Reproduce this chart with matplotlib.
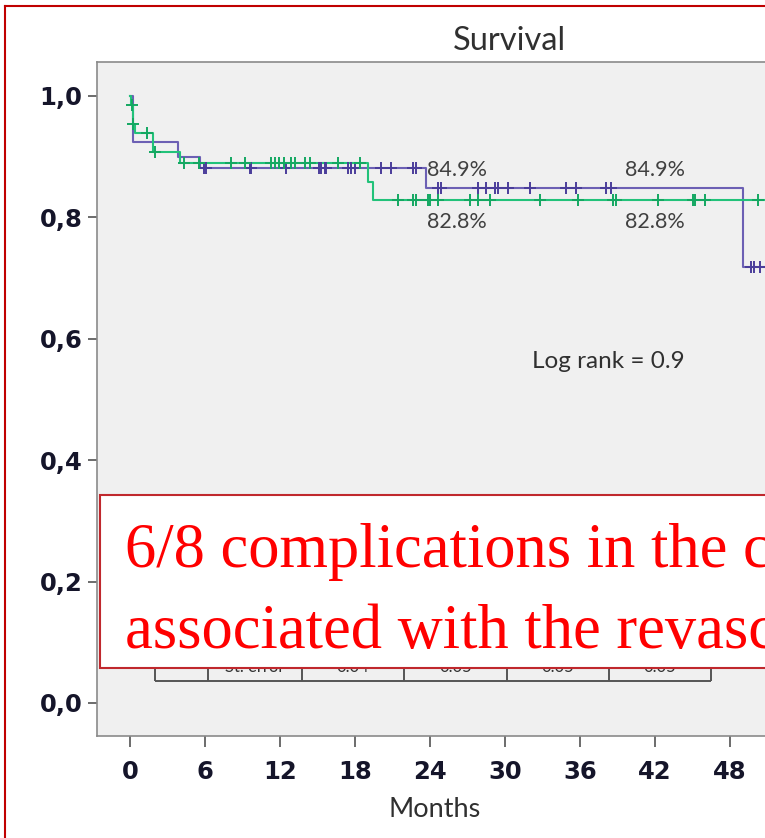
import numpy as np
import matplotlib
matplotlib.use("Agg")
import matplotlib.pyplot as plt
from matplotlib.patches import Rectangle

# --- data ---
# step curves: event times (months) and survival after each step
purple_t = [0, 0.25, 3.85, 5.6, 23.7, 49.0, 51.5]
purple_s = [1.0, 0.924, 0.900, 0.881, 0.849, 0.718, 0.718]
green_t = [0, 0.1, 0.2, 0.4, 1.85, 4.0, 19.0, 19.4, 51.5]
green_s = [1.0, 0.985, 0.954, 0.939, 0.908, 0.889, 0.858, 0.828, 0.828]

# censored observations (months)
purple_cens = [5.9, 6.1, 9.6, 9.7, 12.5, 15.1, 15.3, 15.6, 15.7, 17.4, 17.7,
               18.0, 20.1, 20.9, 22.6, 22.9, 24.6, 24.9, 27.8, 28.5, 29.2,
               29.4, 30.2, 32.0, 34.9, 35.7, 38.1, 38.5, 49.7, 49.9, 50.4]
green_cens = [0.15, 0.2, 1.35, 2.0, 4.3, 5.5, 8.1, 9.2, 11.3, 11.6, 11.9,
              12.3, 12.9, 13.2, 14.0, 14.4, 16.6, 18.4, 21.4, 22.6, 22.9,
              23.8, 24.0, 24.6, 27.2, 27.8, 28.8, 32.8, 35.8, 38.6, 38.9,
              42.2, 45.0, 45.2, 46.0, 50.2]

pct_labels = ["84.9%", "84.9%", "82.8%", "82.8%"]
pct_x = [23.8, 39.6, 23.8, 39.6]
pct_y = [0.878, 0.878, 0.792, 0.792]

table_edges = [2.0, 6.24, 13.76, 21.92, 30.16, 38.32, 46.48]
table_cells = ["", "St. error", "0.04", "0.05", "0.05", "0.05"]

x_ticks = np.arange(0, 49, 6)
y_ticks = [0.0, 0.2, 0.4, 0.6, 0.8, 1.0]
y_ticklabels = ["0,0", "0,2", "0,4", "0,6", "0,8", "1,0"]

PURPLE = "#6c60b4"
PURPLE_MK = "#4a3d9a"
GREEN = "#22c27a"
GREEN_MK = "#14a862"
SANS = ["Lato", "DejaVu Sans"]


def level_at(t_steps, s_steps, t):
    idx = np.searchsorted(t_steps, t, side="right") - 1
    return np.asarray(s_steps)[idx]


W, H = 765, 838
fig = plt.figure(figsize=(W / 100, H / 100), dpi=100)
fig.patch.set_facecolor("white")

ax = fig.add_axes([97 / W, 1 - 736 / H, (921 - 97) / W, (736 - 62) / H])
ax.set_facecolor("#f0f0f0")
ax.set_xlim(-2.64, 63.28)
ax.set_ylim(-0.0544, 1.056)

ax.step(purple_t, purple_s, where="post", color=PURPLE, lw=1.5, zorder=3)
ax.step(green_t, green_s, where="post", color=GREEN, lw=1.5, zorder=3)
ax.plot(purple_cens, level_at(purple_t, purple_s, purple_cens), ls="none",
        marker="+", ms=8.5, mew=1.4, color=PURPLE_MK, zorder=4)
ax.plot(green_cens, level_at(green_t, green_s, green_cens), ls="none",
        marker="+", ms=8.5, mew=1.4, color=GREEN_MK, zorder=4)

for lab, px, py in zip(pct_labels, pct_x, pct_y):
    ax.text(px, py, lab, ha="left", va="center", fontsize=15.5,
            family=SANS, color="#404040")
ax.text(32.2, 0.562, "Log rank = 0.9", ha="left", va="center", fontsize=17.5,
        family=SANS, color="#303030")

# survival table partly hidden behind the annotation box
ax.hlines(0.0362, table_edges[0], table_edges[-1], color="#555555", lw=1.4, zorder=2)
ax.vlines(table_edges, 0.0362, 0.11, color="#555555", lw=1.4, zorder=2)
for i, cell in enumerate(table_cells):
    ax.text((table_edges[i] + table_edges[i + 1]) / 2, 0.059, cell,
            ha="center", va="center", fontsize=12, family=SANS, color="#333333")

for side in ["left", "top", "bottom"]:
    ax.spines[side].set_color("#8a8a8a")
    ax.spines[side].set_linewidth(1.2)
ax.spines["right"].set_visible(False)

ax.set_xticks(x_ticks)
ax.set_xticklabels([str(v) for v in x_ticks])
ax.set_yticks(y_ticks)
ax.set_yticklabels(y_ticklabels)
ax.tick_params(axis="y", direction="out", length=6.5, width=1.1, color="#444444",
               pad=4, labelsize=17.5, labelcolor="#15152a")
ax.tick_params(axis="x", direction="out", length=8, width=1.1, color="#444444",
               pad=9, labelsize=17.5, labelcolor="#15152a")
for lab in ax.get_xticklabels() + ax.get_yticklabels():
    lab.set_fontweight("bold")
    lab.set_family("DejaVu Sans")

ax.set_title("Survival", fontsize=23.5, family=SANS, color="#303030", pad=9)
ax.set_xlabel("Months", fontsize=19.5, family=SANS, color="#303030")
ax.xaxis.set_label_coords((435 - 97) / 824, -0.09)

# annotation box over the chart
fig.add_artist(Rectangle((100 / W, 1 - 668 / H), 1.0, (668 - 495) / H,
                         transform=fig.transFigure, facecolor="white",
                         edgecolor="#c0282d", lw=1.5, zorder=5))
fig.text(125 / W, 1 - 567 / H, "6/8 complications in the c", fontsize=45,
         family="Liberation Serif", color="#ff0000", va="baseline", zorder=6)
fig.text(125 / W, 1 - 648 / H, "associated with the revasc", fontsize=45,
         family="Liberation Serif", color="#ff0000", va="baseline", zorder=6)

# thin red slide frame
fig.add_artist(plt.Line2D([5 / W, 5 / W], [0, 1 - 6 / H], transform=fig.transFigure,
                          color="#c00000", lw=1.5, zorder=7))
fig.add_artist(plt.Line2D([5 / W, 1], [1 - 6 / H, 1 - 6 / H], transform=fig.transFigure,
                          color="#c00000", lw=1.5, zorder=7))

fig.savefig("out.png", dpi=100)
